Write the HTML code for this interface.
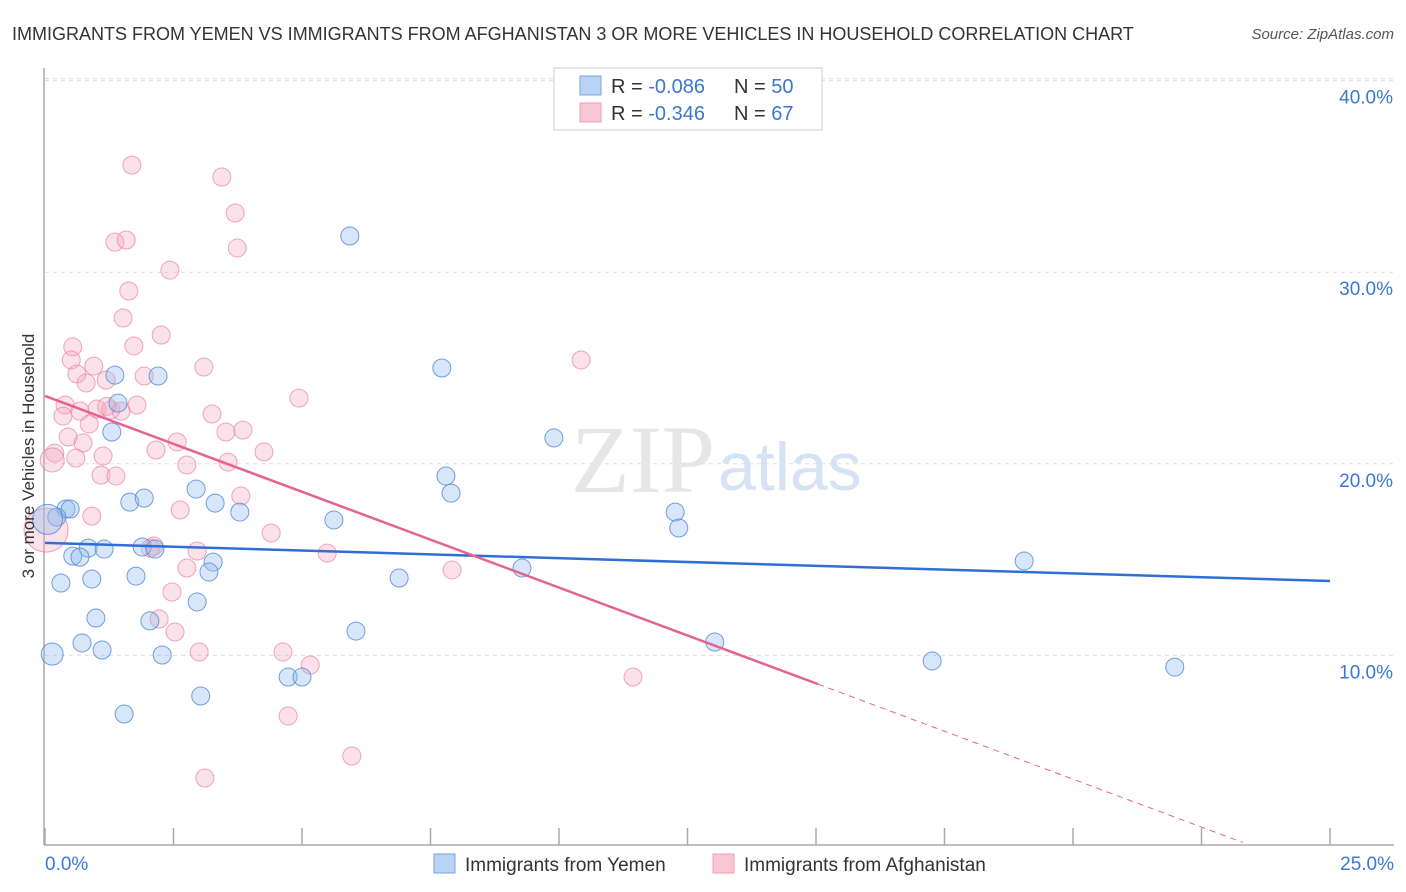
<!DOCTYPE html>
<html><head><meta charset="utf-8"><style>
body{margin:0;background:#fff;font-family:"Liberation Sans",sans-serif;}
#wrap{position:relative;width:1406px;height:892px;overflow:hidden;}
</style></head><body>
<div id="wrap">
<svg id="chart" width="1406" height="892" xmlns="http://www.w3.org/2000/svg">
<text x="12" y="40" font-size="18" fill="#333">IMMIGRANTS FROM YEMEN VS IMMIGRANTS FROM AFGHANISTAN 3 OR MORE VEHICLES IN HOUSEHOLD CORRELATION CHART</text>
<text x="1394" y="39" font-size="15" fill="#555" font-style="italic" text-anchor="end">Source: ZipAtlas.com</text>
<g id="grid"></g>
<text x="715" y="492" font-size="96" fill="#e6e6e6" font-family="Liberation Serif" text-anchor="end">ZIP</text>
<text x="718" y="490" font-size="68" fill="#d5e3f3">atlas</text>
<g id="pts"></g>
<g id="lines"></g>
<text transform="translate(34,456) rotate(-90)" font-size="17" fill="#333" text-anchor="middle">3 or more Vehicles in Household</text>
<g>
<rect x="554" y="68" width="268" height="62" fill="#fff" stroke="#ccc"/>
<rect x="580" y="76" width="21" height="19" fill="#b8d3f5" stroke="#7aa7e0"/>
<rect x="580" y="103" width="21" height="19" fill="#f8c6d4" stroke="#eca0b6"/>
<text x="611" y="93" font-size="20" fill="#333">R = <tspan fill="#3b78d0">-0.086</tspan></text>
<text x="734" y="93" font-size="20" fill="#333">N = <tspan fill="#3b78d0">50</tspan></text>
<text x="611" y="120" font-size="20" fill="#333">R = <tspan fill="#3b78d0">-0.346</tspan></text>
<text x="734" y="120" font-size="20" fill="#333">N = <tspan fill="#3b78d0">67</tspan></text>
</g>
<g>
<rect x="434" y="854" width="21" height="19" fill="#b8d3f5" stroke="#7aa7e0"/>
<text x="465" y="871" font-size="19" fill="#333">Immigrants from Yemen</text>
<rect x="713" y="854" width="21" height="19" fill="#f8c6d4" stroke="#eca0b6"/>
<text x="744" y="871" font-size="19" fill="#333">Immigrants from Afghanistan</text>
</g>
</svg>
</div>
<script>
const yTicks=[10,20,30,40];
const yTickLabels=["10.0%","20.0%","30.0%","40.0%"];
const xTicks=[0,2.5,5,7.5,10,12.5,15,17.5,20,22.5,25];
const xEndLabels=["0.0%","25.0%"];
const yemenX=[5.93,7.72,1.36,2.20,1.42,1.30,9.90,7.80,7.90,2.94,1.65,1.93,3.31,3.79,0.41,0.49,0.23,5.62,12.26,12.33,0.84,1.15,1.89,2.14,0.54,0.68,3.27,3.19,9.28,19.05,1.77,0.91,0.31,6.89,2.96,0.99,2.04,6.05,0.72,13.03,1.11,2.28,0.14,17.26,21.98,4.73,5.00,3.03,1.54,0.05];
const yemenY=[31.89,25.0,24.63,24.58,23.17,21.66,21.35,19.36,18.47,18.68,18.0,18.21,17.95,17.48,17.64,17.64,17.22,17.07,17.48,16.65,15.6,15.55,15.66,15.55,15.18,15.13,14.87,14.35,14.56,14.93,14.14,13.99,13.78,14.04,12.79,11.95,11.8,11.27,10.65,10.7,10.28,10.02,10.07,9.71,9.39,8.87,8.87,7.88,6.94,17.1];
const yemenR=[9,9,9,9,9,9,9,9,9,9,9,9,9,9,9,9,9,9,9,9,9,9,9,9,9,9,9,9,9,9,9,9,9,9,9,9,9,9,9,9,9,9,11,9,9,9,9,9,9,15];
const afgX=[1.69,3.44,3.70,1.36,1.58,3.74,2.43,1.63,1.52,2.26,0.54,1.73,0.51,0.95,3.09,10.43,0.62,0.80,1.93,1.19,4.94,0.39,1.79,0.35,1.01,0.68,1.28,1.48,3.25,0.86,3.52,3.85,0.45,0.74,2.57,2.16,4.26,1.13,0.19,0.14,3.56,2.76,1.09,1.38,3.81,2.63,0.91,4.40,2.12,2.96,5.49,2.76,7.92,2.47,2.22,2.53,3.00,4.63,5.16,11.44,4.73,5.97,3.11,0.02,1.20,0.60,2.05];
const afgY=[35.59,34.97,33.09,31.57,31.68,31.26,30.11,29.02,27.61,26.72,26.1,26.15,25.42,25.1,25.05,25.42,24.69,24.22,24.58,24.37,23.43,23.07,23.07,22.49,22.86,22.75,22.81,22.75,22.6,22.08,21.66,21.76,21.4,21.09,21.14,20.72,20.62,20.41,20.56,20.2,20.09,19.94,19.41,19.36,18.32,17.59,17.27,16.39,15.71,15.45,15.34,14.56,14.46,13.31,11.9,11.22,10.18,10.18,9.5,8.87,6.84,4.75,3.6,16.54,23.0,20.3,15.6];
const afgR=[9,9,9,9,9,9,9,9,9,9,9,9,9,9,9,9,9,9,9,9,9,9,9,9,9,9,9,9,9,9,9,9,9,9,9,9,9,9,9,12,9,9,9,9,9,9,9,9,9,9,9,9,9,9,9,9,9,9,9,9,9,9,9,22,9,9,9];
const yemenTrend=[15.87,13.88];
const afgTrend=[23.54,-1.0];
const afgSolidEnd=15.04, afgDashEnd=23.3;
const NS="http://www.w3.org/2000/svg";
const X=v=>45+v/25*1285;
const Y=v=>847-v*19.16;
function mk(tag,attrs,parent){const e=document.createElementNS(NS,tag);for(const k in attrs)e.setAttribute(k,attrs[k]);parent.appendChild(e);return e;}
const grid=document.getElementById('grid');
yTicks.forEach((t,i)=>{
  const l=mk('line',{x1:45,x2:1394,y1:Y(t),y2:Y(t),stroke:'#ddd','stroke-dasharray':'4,4'},grid);
  
  
  const tx=mk('text',{x:1393,y:Y(t)+23,'font-size':19,fill:'#3b78d0','text-anchor':'end'},grid);
  tx.textContent=yTickLabels[i];
  
  
});
const topGrid=mk('line',{x1:45,x2:1394,y1:Y(40)-2,y2:Y(40)-2,stroke:'#ddd','stroke-dasharray':'4,4'},grid);


const ax=mk('line',{x1:44,x2:44,y1:68,y2:845,stroke:'#aaa','stroke-width':1.5},grid);


const bx=mk('line',{x1:44,x2:1394,y1:845,y2:845,stroke:'#aaa','stroke-width':1.5},grid);


xTicks.forEach(t=>{
  const l=mk('line',{x1:X(t),x2:X(t),y1:828,y2:845,stroke:'#aaa','stroke-width':1.5},grid);
  
  
});
const xl0=mk('text',{x:45,y:870,'font-size':19,fill:'#3b78d0'},grid);xl0.textContent=xEndLabels[0];


const xl1=mk('text',{x:1394,y:870,'font-size':19,fill:'#3b78d0','text-anchor':'end'},grid);xl1.textContent=xEndLabels[1];


const pts=document.getElementById('pts');
afgX.forEach((x,i)=>{
  const c=mk('circle',{cx:X(x),cy:Y(afgY[i]),r:afgR[i],fill:'rgba(244,170,192,0.35)',stroke:'rgba(232,130,160,0.7)','stroke-width':1},pts);
  
  
});
yemenX.forEach((x,i)=>{
  const c=mk('circle',{cx:X(x),cy:Y(yemenY[i]),r:yemenR[i],fill:'rgba(150,190,240,0.38)',stroke:'rgba(70,130,210,0.75)','stroke-width':1},pts);
  
  
});
const lines=document.getElementById('lines');
const bl=mk('line',{x1:X(0),y1:Y(yemenTrend[0]),x2:X(25),y2:Y(yemenTrend[1]),stroke:'#2f6fd3','stroke-width':2.5},lines);


const pf=x=>afgTrend[0]+afgTrend[1]*x;
const pl=mk('line',{x1:X(0),y1:Y(pf(0)),x2:X(afgSolidEnd),y2:Y(pf(afgSolidEnd)),stroke:'#e5648e','stroke-width':2.5},lines);


const pd=mk('line',{x1:X(afgSolidEnd),y1:Y(pf(afgSolidEnd)),x2:X(afgDashEnd),y2:Y(pf(afgDashEnd)),stroke:'#e5648e','stroke-width':1,'stroke-dasharray':'6,5'},lines);


</script>
</body></html>
